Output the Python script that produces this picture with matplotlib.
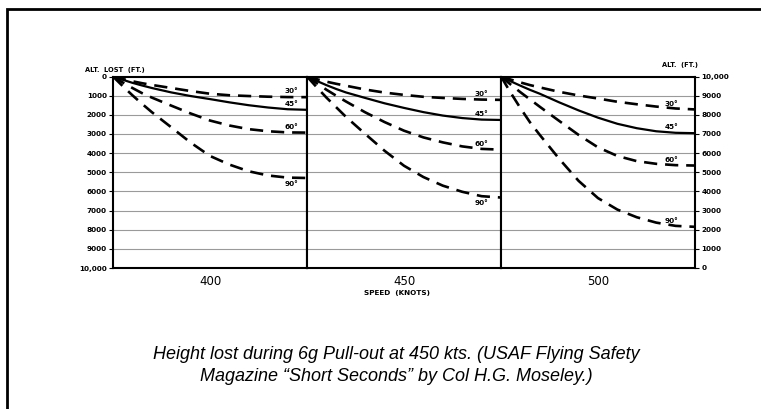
import matplotlib

matplotlib.use("Agg")
import matplotlib.pyplot as plt
from matplotlib.patches import Rectangle

# --- data ------------------------------------------------------------------
speeds = ["400", "450", "500"]
angles = ["30°", "45°", "60°", "90°"]
# position within each speed panel (left edge = start of pull-out)
frac = [0, 0.05, 0.1, 0.15, 0.2, 0.3, 0.4, 0.5, 0.6, 0.7, 0.8, 0.9, 1.0]

# altitude lost (ft) per dive angle, one list per curve
loss_400 = [
    [0, 130, 250, 350, 440, 600, 760, 900, 980, 1020, 1055, 1075, 1080],
    [0, 170, 330, 470, 600, 830, 1020, 1180, 1350, 1500, 1620, 1710, 1740],
    [0, 310, 600, 870, 1100, 1520, 1930, 2300, 2560, 2750, 2860, 2920, 2930],
    [0, 500, 980, 1430, 1860, 2650, 3450, 4150, 4600, 4950, 5170, 5280, 5300],
]
loss_450 = [
    [0, 140, 270, 380, 480, 680, 840, 960, 1060, 1120, 1170, 1205, 1220],
    [0, 230, 450, 650, 830, 1120, 1400, 1640, 1860, 2040, 2170, 2250, 2270],
    [0, 350, 690, 1000, 1300, 1870, 2380, 2830, 3180, 3440, 3650, 3780, 3820],
    [0, 560, 1100, 1600, 2100, 3000, 3880, 4660, 5250, 5700, 6020, 6250, 6320],
]
loss_500 = [
    [0, 160, 310, 450, 570, 800, 990, 1150, 1320, 1450, 1570, 1670, 1720],
    [0, 250, 480, 700, 900, 1350, 1770, 2150, 2470, 2700, 2860, 2940, 2960],
    [0, 420, 820, 1200, 1580, 2320, 3050, 3700, 4150, 4420, 4560, 4630, 4650],
    [0, 850, 1650, 2400, 3050, 4300, 5450, 6350, 6950, 7350, 7630, 7800, 7850],
]
left_ticks = [0, 1000, 2000, 3000, 4000, 5000, 6000, 7000, 8000, 9000, 10000]
left_labels = ["0", "1000", "2000", "3000", "4000", "5000", "6000",
               "7000", "8000", "9000", "10,000"]
right_labels = ["10,000", "9000", "8000", "7000", "6000", "5000", "4000",
                "3000", "2000", "1000", "0"]

caption = ("Height lost during 6g Pull-out at 450 kts. (USAF Flying Safety\n"
           "Magazine \u201cShort Seconds\u201d by Col H.G. Moseley.)")

# --- figure -----------------------------------------------------------------
plt.rcParams["font.family"] = ["DejaVu Sans"]
fig = plt.figure(figsize=(7.61, 4.09), dpi=100)
fig.patch.set_facecolor("white")

W, H = 761, 409
x0, x1 = 113, 695
y_top, y_bot = 76.5, 268
panel_w = (x1 - x0) / 3

series = [loss_400, loss_450, loss_500]
label_x = [0.92, 0.90, 0.88]
label_below = [[False, False, False, True],
               [False, False, False, True],
               [False, False, False, False]]
tick_kw = dict(fontsize=5.2, fontweight="bold")

axes = []
for i, (speed, curves) in enumerate(zip(speeds, series)):
    ax = fig.add_axes([(x0 + i * panel_w) / W, 1 - y_bot / H,
                       panel_w / W, (y_bot - y_top) / H])
    axes.append(ax)
    ax.set_xlim(0, 1)
    ax.set_ylim(10000, 0)
    for y in left_ticks[1:-1]:
        ax.axhline(y, color="#9a9a9a", lw=0.8, zorder=1)
    for j, vals in enumerate(curves):
        if angles[j] == "45°":
            ax.plot(frac, vals, color="black", lw=1.6, zorder=3)
        else:
            ax.plot(frac, vals, color="black", lw=1.9, dashes=(5, 3), zorder=3)
        if label_below[i][j]:
            ax.annotate(angles[j], xy=(label_x[i], vals[-1]), xytext=(0, -2),
                        textcoords="offset points", ha="center", va="top",
                        **tick_kw)
        else:
            ax.annotate(angles[j], xy=(label_x[i], vals[-1]), xytext=(0, 2),
                        textcoords="offset points", ha="center", va="bottom",
                        **tick_kw)
    ax.set_xticks([])
    for s in ax.spines.values():
        s.set_linewidth(1.5)
        s.set_color("black")
    ax.text(0.5, -0.035, speed, transform=ax.transAxes, ha="center", va="top",
            fontsize=8.5)
    if i == 0:
        ax.set_yticks(left_ticks)
        ax.set_yticklabels(left_labels, **tick_kw)
        ax.tick_params(axis="y", length=3, width=0.8, pad=1.5)
    elif i == 2:
        ax.yaxis.tick_right()
        ax.set_yticks(left_ticks)
        ax.set_yticklabels(right_labels, **tick_kw)
        ax.tick_params(axis="y", length=3, width=0.8, pad=1.5)
    else:
        ax.set_yticks([])

fig.text(85 / W, 1 - 70 / H, "ALT.  LOST  (FT.)", fontsize=4.8,
         fontweight="bold", va="center", ha="left")
fig.text(662 / W, 1 - 65 / H, "ALT.  (FT.)", fontsize=4.8,
         fontweight="bold", va="center", ha="left")
fig.text(397 / W, 1 - 293 / H, "SPEED  (KNOTS)", fontsize=5.2,
         fontweight="bold", va="center", ha="center")

fig.text(396 / W, 1 - 365.5 / H, caption, fontsize=13, style="italic",
         family="Liberation Sans", ha="center", va="center", linespacing=1.38)

fig.add_artist(Rectangle((7 / W, -0.2), 1.5, 1 - 9 / H + 0.2,
                         transform=fig.transFigure, fill=False,
                         lw=2, edgecolor="black", clip_on=False))

fig.savefig("out.png", dpi=100)
